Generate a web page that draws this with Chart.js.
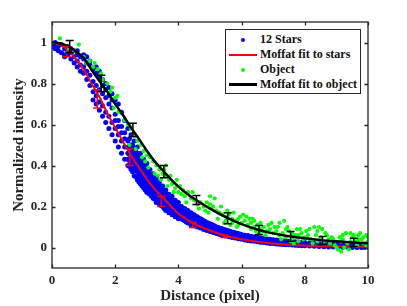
<!DOCTYPE html>
<html><head><meta charset="utf-8">
<script src="https://cdn.jsdelivr.net/npm/chart.js@4"></script>
<style>
html,body{margin:0;padding:0;background:#fff;}
#wrap{position:relative;width:407px;height:306px;}
canvas{display:block;}
#legend{position:absolute;left:225px;top:29px;width:134px;height:61px;border:1.5px solid #262626;background:#fff;padding-top:2px;box-sizing:content-box;font:bold 12px "Liberation Serif","Times New Roman",serif;color:#111;}
.row{height:15px;line-height:15px;position:relative;white-space:nowrap;}
.mk{position:absolute;left:3px;width:28px;top:0;height:15px;}
.txt{position:absolute;left:34px;top:0;}
.dot{position:absolute;left:12px;top:6px;width:4px;height:4px;border-radius:50%;}
.ln{position:absolute;left:0;width:28px;}
</style>
</head><body>
<div id="wrap"><canvas id="c" width="407" height="306"></canvas>
<div id="legend">
<div class="row"><div class="mk"><div class="dot" style="background:#0000ff"></div></div><span class="txt">12 Stars</span></div>
<div class="row"><div class="mk"><div class="ln" style="background:#ff0000;height:2px;top:7px"></div></div><span class="txt">Moffat fit to stars</span></div>
<div class="row"><div class="mk"><div class="dot" style="background:#00ff00"></div></div><span class="txt">Object</span></div>
<div class="row"><div class="mk"><div class="ln" style="background:#000;height:3px;top:6px"></div></div><span class="txt">Moffat fit to object</span></div>
</div>
</div>
<script>
// ---- data ----
const xTicks = [0, 2, 4, 6, 8, 10];
const yTicks = [0, 0.2, 0.4, 0.6, 0.8, 1];
const xTickLabels = ['0', '2', '4', '6', '8', '10'];
const yTickLabels = ['0', '0.2', '0.4', '0.6', '0.8', '1'];

// blue star samples: [x, y...] columns
const starCols = [
[0.05,0.99,0.98],[0.1,1.0,0.97],[0.2,0.98,0.96],[0.3,0.99,0.95],[0.4,0.97,0.94,0.93],
[0.5,0.96,0.98,0.94],[0.6,0.95,0.92,0.97],[0.7,0.96,0.93,0.9],[0.8,0.94,0.91,0.88,0.96],
[0.9,0.93,0.89,0.86],[1.0,0.92,0.88,0.85,0.94],[1.1,0.9,0.86,0.82,0.93],[1.2,0.89,0.84,0.79,0.91],
[1.3,0.87,0.81,0.76,0.72],[1.4,0.85,0.79,0.74,0.7,0.88],[1.5,0.83,0.77,0.71,0.67,0.86],
[1.6,0.82,0.75,0.69,0.64,0.79],[1.7,0.8,0.73,0.66,0.61,0.77],[1.8,0.78,0.7,0.64,0.58,0.74],
[1.9,0.75,0.68,0.61,0.55,0.72],[2.0,0.72,0.65,0.58,0.52,0.62],[2.1,0.7,0.62,0.55,0.49,0.59],
[2.2,0.66,0.59,0.52,0.46,0.56],[2.3,0.62,0.56,0.49,0.43,0.53],[2.4,0.58,0.52,0.46,0.4,0.49,0.43],
[2.5,0.55,0.5,0.47,0.44,0.41,0.38],[2.6,0.52,0.48,0.45,0.42,0.39,0.35],[2.7,0.49,0.46,0.43,0.4,0.37,0.33],
[2.8,0.46,0.43,0.4,0.37,0.34,0.31],[2.9,0.43,0.4,0.38,0.35,0.32,0.29],[3.0,0.41,0.38,0.35,0.33,0.3,0.27],
[3.1,0.38,0.36,0.33,0.31,0.28,0.26],[3.2,0.36,0.34,0.31,0.29,0.26,0.24],[3.3,0.34,0.32,0.29,0.27,0.25,0.22],
[3.4,0.32,0.3,0.28,0.25,0.23,0.21],[3.5,0.3,0.28,0.26,0.24,0.22,0.2],[3.6,0.28,0.26,0.24,0.22,0.2,0.18],
[3.7,0.26,0.245,0.225,0.21,0.19,0.17],[3.8,0.25,0.23,0.21,0.195,0.18,0.16],[3.9,0.23,0.215,0.2,0.18,0.165,0.15],
[4.0,0.22,0.2,0.185,0.17,0.155,0.14],[4.1,0.2,0.185,0.17,0.155,0.14],[4.2,0.19,0.175,0.16,0.145,0.13],
[4.3,0.18,0.165,0.15,0.135,0.12],[4.4,0.17,0.155,0.14,0.125,0.11],[4.5,0.16,0.145,0.13,0.117,0.105],
[4.6,0.15,0.13,0.115,0.1],[4.7,0.14,0.12,0.11,0.095],[4.8,0.13,0.115,0.1,0.088],
[4.9,0.12,0.108,0.095,0.083],[5.0,0.115,0.1,0.09,0.078],[5.1,0.108,0.095,0.083,0.073],
[5.2,0.1,0.089,0.078,0.068],[5.3,0.095,0.083,0.073,0.064],[5.4,0.09,0.078,0.068,0.06],
[5.5,0.085,0.074,0.064,0.056],[5.6,0.08,0.07,0.06,0.052],[5.7,0.075,0.066,0.057,0.049],
[5.8,0.071,0.062,0.054,0.046],[5.9,0.067,0.058,0.05,0.043],[6.0,0.063,0.055,0.047,0.04],
[6.2,0.058,0.048,0.04,0.034],[6.4,0.052,0.043,0.035,0.03],[6.6,0.047,0.038,0.031,0.026],
[6.8,0.042,0.034,0.027,0.022],[7.0,0.038,0.03,0.024,0.019],[7.2,0.035,0.027,0.021,0.016],
[7.4,0.032,0.024,0.018,0.014],[7.6,0.029,0.022,0.016,0.012],[7.8,0.027,0.02,0.014,0.01],
[8.0,0.025,0.018,0.012,0.008],[8.3,0.022,0.015,0.01,0.006],[8.6,0.02,0.013,0.008,0.004],
[8.9,0.018,0.011,0.006,0.002],[9.2,0.016,0.01,0.005,0.001],[9.5,0.015,0.009,0.004,0.0],
[9.8,0.014,0.008,0.003,0.0],[10.0,0.013,0.007,0.002]
];
// extra blue columns between the ones above (dense part of the band)
const starCols2 = [
[2.45,0.53,0.485,0.455,0.425,0.395],[2.55,0.5,0.465,0.435,0.405,0.37],[2.65,0.47,0.44,0.41,0.38,0.345],
[2.75,0.445,0.415,0.385,0.355,0.32],[2.85,0.42,0.39,0.36,0.33,0.3],[2.95,0.395,0.37,0.34,0.31,0.28],
[3.05,0.37,0.345,0.32,0.29,0.265],[3.15,0.35,0.325,0.3,0.275,0.25],[3.25,0.33,0.305,0.28,0.26,0.235],
[3.35,0.31,0.29,0.265,0.245,0.22],[3.45,0.29,0.27,0.25,0.23,0.205],[3.55,0.275,0.255,0.235,0.215,0.19],
[3.65,0.26,0.24,0.22,0.2,0.18],[3.75,0.245,0.225,0.205,0.19,0.17],[3.85,0.23,0.21,0.195,0.18,0.16],
[3.95,0.215,0.2,0.185,0.165,0.15],[4.05,0.2,0.185,0.17,0.155,0.14],[4.15,0.19,0.175,0.16,0.145,0.135],
[4.25,0.18,0.165,0.15,0.14,0.125],[4.35,0.17,0.155,0.14,0.13,0.118],[4.45,0.16,0.145,0.135,0.122,0.11],
[4.55,0.15,0.138,0.125,0.113],[4.65,0.142,0.13,0.118,0.106],[4.75,0.135,0.122,0.11,0.1],
[4.85,0.127,0.115,0.104,0.093],[4.95,0.12,0.108,0.098,0.088],[5.05,0.112,0.1,0.092,0.082],
[5.15,0.105,0.095,0.086,0.077],[5.25,0.098,0.089,0.081,0.072],[5.35,0.093,0.084,0.076,0.067],
[5.45,0.088,0.08,0.071,0.063],[5.55,0.083,0.075,0.067,0.059],[5.65,0.078,0.071,0.063,0.056],
[5.75,0.074,0.067,0.06,0.053],[5.85,0.07,0.063,0.057,0.05],[5.95,0.066,0.06,0.053,0.046],
[6.1,0.06,0.052,0.044,0.037],[6.3,0.055,0.046,0.038,0.032],[6.5,0.05,0.04,0.033,0.028],
[6.7,0.045,0.036,0.029,0.024],[6.9,0.04,0.032,0.025,0.02],[7.1,0.036,0.028,0.022,0.017],
[7.3,0.033,0.025,0.019,0.015],[7.5,0.03,0.023,0.017,0.013],[7.7,0.028,0.021,0.015,0.011],
[7.9,0.026,0.019,0.013,0.009],[8.15,0.023,0.016,0.011,0.007],[8.45,0.021,0.014,0.009,0.005],
[8.75,0.019,0.012,0.007,0.003],[9.05,0.017,0.011,0.005,0.002],[9.35,0.016,0.01,0.005,0.001],
[9.65,0.015,0.009,0.004,0.0],[9.9,0.014,0.008,0.003,0.001]
];

// green object samples [x, y]
const objectPts = [
[0.25,1.02],[0.85,0.99],[0.5,0.97],[0.7,0.96],[1.0,0.93],[1.1,0.9],[1.2,0.91],[1.3,0.88],
[1.35,0.9],[1.45,0.87],[1.55,0.85],[1.6,0.82],[1.75,0.8],[1.85,0.76],[1.9,0.78],[2.0,0.73],
[2.07,0.74],[1.95,0.68],[2.1,0.66],
[2.3,0.62],[2.4,0.6],[2.5,0.58],[2.6,0.55],[2.7,0.52],[2.8,0.5],[2.9,0.47],[3.0,0.45],[2.45,0.5],[2.65,0.48],[2.85,0.44],
[3.1,0.44],[3.2,0.42],[3.3,0.4],[3.4,0.38],[3.5,0.36],[3.6,0.35],[3.7,0.33],[3.8,0.31],[3.9,0.29],[3.05,0.39],[3.25,0.36],
[3.45,0.33],[3.65,0.3],[3.85,0.27],[3.75,0.35],[3.6,0.4],[3.95,0.33],
[4.0,0.27],[4.1,0.26],[4.2,0.25],[4.3,0.27],[4.4,0.24],[4.5,0.23],[4.6,0.21],[4.7,0.22],[4.8,0.2],[4.9,0.22],[5.0,0.25],
[4.05,0.3],[4.25,0.22],[4.65,0.19],[4.85,0.18],[4.95,0.17],[5.15,0.24],
[5.1,0.2],[5.2,0.18],[5.3,0.17],[5.4,0.16],[5.5,0.15],[5.6,0.16],[5.7,0.14],[5.8,0.13],[5.9,0.14],[6.0,0.12],
[5.25,0.14],[5.45,0.12],[5.65,0.11],[5.85,0.1],[5.35,0.2],[5.75,0.17],[5.95,0.15],
[6.1,0.13],[6.2,0.11],[6.3,0.12],[6.4,0.1],[6.5,0.11],[6.6,0.09],[6.7,0.1],[6.8,0.08],[6.9,0.09],[7.0,0.07],
[6.15,0.15],[6.35,0.14],[6.55,0.07],[6.75,0.06],[6.95,0.12],[7.35,0.13],[6.45,0.08],
[7.1,0.08],[7.2,0.06],[7.3,0.07],[7.4,0.05],[7.5,0.08],[7.6,0.04],[7.7,0.06],[7.8,0.03],[7.9,0.07],[8.0,0.05],
[7.15,0.1],[7.45,0.1],[7.65,0.02],[7.85,0.09],[7.55,0.03],[7.25,0.04],
[8.1,0.06],[8.2,0.04],[8.3,0.1],[8.4,0.08],[8.5,0.05],[8.6,0.03],[8.7,0.06],[8.8,0.02],[8.9,0.04],[9.0,0.0],
[8.25,0.02],[8.45,0.1],[8.65,0.07],[8.85,0.05],[8.95,0.01],[8.15,0.09],
[9.05,-0.01],[9.1,0.05],[9.15,0.03],[9.2,0.06],[9.25,0.0],[9.3,0.07],[9.35,0.02],[9.4,-0.01],[9.5,0.05],[9.6,0.03],
[9.7,0.06],[9.8,0.04],[9.9,0.02],[10.0,0.03],[9.45,0.03],[9.65,0.01],[9.75,0.07],[9.85,0.05],[9.95,0.06],[9.55,0.06],
[9.15,-0.02],[10.0,0.05],
[5.05,0.19],[5.55,0.18],[5.7,0.12],[5.9,0.11],[6.05,0.16],[6.25,0.14],[6.4,0.13],[6.6,0.12],[6.65,0.08],[6.85,0.11],
[7.05,0.1],[7.2,0.12],[7.4,0.09],[7.6,0.07],[7.75,0.09],[7.95,0.04],[8.05,0.08],[8.35,0.06],[8.55,0.09],[8.75,0.04],
[9.2,0.04],[9.45,0.07],[9.7,0.04],[9.85,0.02],[9.95,0.01],[8.4,0.03],[7.8,0.06],[6.3,0.09],[5.5,0.13],[5.0,0.21],
[4.45,0.27],[4.15,0.28],[3.55,0.38],[3.35,0.35],[2.95,0.42]
];

// Moffat fit to stars (red)
const starFitX = [0,0.25,0.5,0.75,1.0,1.25,1.5,1.75,2.0,2.25,2.5,2.75,3.0,3.25,3.5,3.75,4.0,4.5,5.0,5.5,6.0,6.5,7.0,7.5,8.0,8.5,9.0,9.5,10];
const starFitY = [1.0,0.99,0.965,0.92,0.87,0.8,0.735,0.655,0.585,0.515,0.45,0.39,0.335,0.285,0.245,0.205,0.165,0.117,0.083,0.057,0.04,0.028,0.02,0.014,0.01,0.008,0.006,0.005,0.004];
// Moffat fit to object (black)
const objFitX = [0,0.25,0.5,0.75,1.0,1.25,1.5,1.75,2.0,2.25,2.5,2.75,3.0,3.25,3.5,3.75,4.0,4.25,4.5,5.0,5.5,6.0,6.5,7.0,7.5,8.0,8.5,9.0,9.5,10];
const objFitY = [1.0,0.995,0.982,0.957,0.925,0.867,0.812,0.76,0.7,0.645,0.585,0.53,0.472,0.42,0.377,0.335,0.297,0.265,0.238,0.19,0.148,0.114,0.088,0.069,0.055,0.045,0.036,0.03,0.025,0.021];

// error bars
const starErrX = [0.46,1.43,2.46,3.46,4.46,5.45];
const starErrY = [0.955,0.725,0.44,0.225,0.11,0.055];
const starErrE = [0.025,0.045,0.04,0.025,0.012,0.006];
const objErrX = [0.56,1.56,2.56,3.54,4.57,5.56,6.55,7.55,8.56,9.55];
const objErrY = [0.98,0.80,0.573,0.37,0.232,0.143,0.085,0.054,0.034,0.025];
const objErrE = [0.03,0.04,0.033,0.03,0.022,0.027,0.022,0.024,0.02,0.02];

// ---- build ----
const starPts = [];
starCols.concat(starCols2).forEach(c => { for (let i = 1; i < c.length; i++) starPts.push({x: c[0], y: c[i]}); });
const objData = objectPts.map(p => ({x: p[0], y: p[1]}));
const starFit = starFitX.map((x, i) => ({x, y: starFitY[i]}));
const objFit = objFitX.map((x, i) => ({x, y: objFitY[i]}));

const FONT = '"Liberation Serif", "Times New Roman", serif';
const AX = '#262626';

const framePlugin = {
  id: 'frame',
  afterDatasetsDraw(chart) {
    const {ctx, scales: {x, y}} = chart;
    ctx.save();
    const bars = (xs, ys, es, col) => {
      ctx.strokeStyle = col; ctx.lineWidth = 1.5;
      xs.forEach((xv, i) => {
        const px = x.getPixelForValue(xv);
        const t = y.getPixelForValue(ys[i] + es[i]);
        const b = y.getPixelForValue(ys[i] - es[i]);
        ctx.beginPath();
        ctx.moveTo(px, t); ctx.lineTo(px, b);
        ctx.moveTo(px - 4, t); ctx.lineTo(px + 4, t);
        ctx.moveTo(px - 4, b); ctx.lineTo(px + 4, b);
        ctx.stroke();
      });
    };
    bars(starErrX, starErrY, starErrE, '#ff0000');
    bars(objErrX, objErrY, objErrE, '#000000');
    ctx.restore();
  },
  afterDraw(chart) {
    const {ctx, chartArea: a, scales: {x, y}} = chart;
    ctx.save();
    ctx.strokeStyle = AX; ctx.lineWidth = 1.3;
    ctx.strokeRect(a.left, a.top, a.right - a.left, a.bottom - a.top);
    ctx.beginPath();
    xTicks.forEach(v => {
      const px = Math.round(x.getPixelForValue(v)) + 0.5;
      ctx.moveTo(px, a.bottom); ctx.lineTo(px, a.bottom - 3.5);
      ctx.moveTo(px, a.top); ctx.lineTo(px, a.top + 3.5);
    });
    yTicks.forEach(v => {
      const py = Math.round(y.getPixelForValue(v)) + 0.5;
      ctx.moveTo(a.left, py); ctx.lineTo(a.left + 3.5, py);
      ctx.moveTo(a.right, py); ctx.lineTo(a.right - 3.5, py);
    });
    ctx.stroke();
    ctx.restore();
  }
};

new Chart(document.getElementById('c'), {
  type: 'scatter',
  data: {
    datasets: [
      {label: '12 Stars', data: starPts, backgroundColor: '#0000ff', borderColor: '#0000ff', pointRadius: 2.5, borderWidth: 0, order: 4},
      {label: 'Moffat fit to stars', type: 'line', data: starFit, borderColor: '#ff0000', borderWidth: 2, pointRadius: 0, cubicInterpolationMode: 'monotone', fill: false, order: 3},
      {label: 'Object', data: objData, backgroundColor: '#00ff00', borderColor: '#00ff00', pointRadius: 2.1, borderWidth: 0, order: 2},
      {label: 'Moffat fit to object', type: 'line', data: objFit, borderColor: '#000000', borderWidth: 2.5, pointRadius: 0, cubicInterpolationMode: 'monotone', fill: false, order: 1}
    ]
  },
  options: {
    responsive: false, animation: false, devicePixelRatio: 1,
    layout: {padding: {left: 6, right: 39, top: 22, bottom: 0}},
    plugins: {legend: {display: false}, tooltip: {enabled: false}},
    scales: {
      x: {
        type: 'linear', min: 0, max: 10,
        afterBuildTicks: s => { s.ticks = xTicks.map(v => ({value: v})); },
        afterFit: s => { s.height = 38; },
        ticks: {callback: (v, i) => xTickLabels[i], color: AX, padding: 5, font: {family: FONT, size: 13, weight: 'bold'}, maxRotation: 0},
        grid: {display: false, drawTicks: false},
        border: {display: false},
        title: {display: true, text: 'Distance (pixel)', color: AX, padding: {top: 0, bottom: 1}, font: {family: FONT, size: 15, weight: 'bold'}}
      },
      y: {
        type: 'linear', min: -0.1, max: 1.1,
        afterBuildTicks: s => { s.ticks = yTicks.map(v => ({value: v})); },
        afterFit: s => { s.width = 46; },
        ticks: {callback: (v, i) => yTickLabels[i], color: AX, padding: 5, font: {family: FONT, size: 13, weight: 'bold'}},
        grid: {display: false, drawTicks: false},
        border: {display: false},
        title: {display: true, text: 'Normalized intensity', color: AX, padding: {top: 4, bottom: 0}, font: {family: FONT, size: 15, weight: 'bold'}}
      }
    }
  },
  plugins: [framePlugin]
});
</script>
</body></html>
